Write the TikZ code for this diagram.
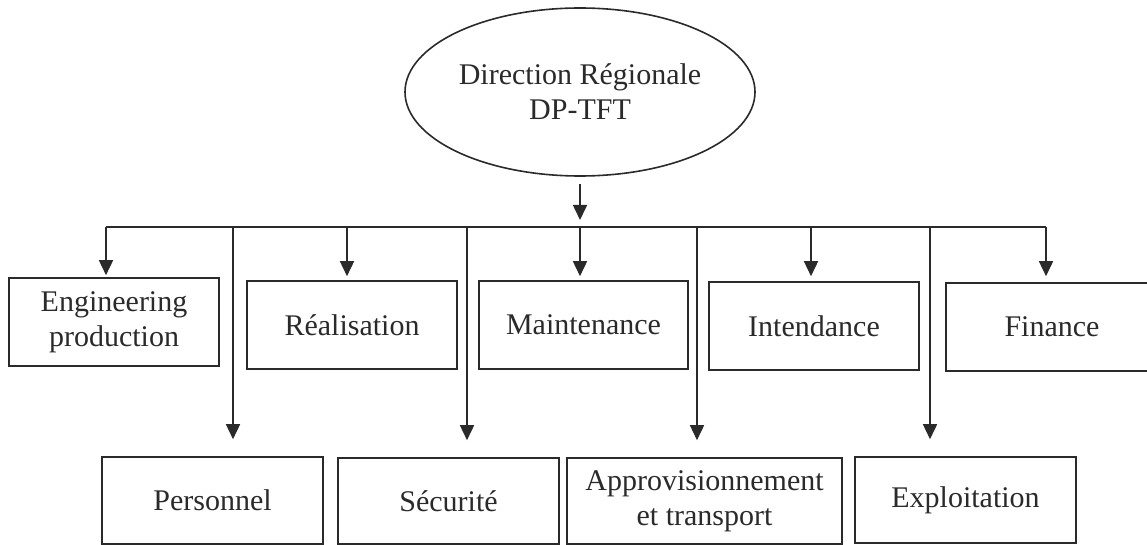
\documentclass[tikz,border=0pt]{standalone}
\usepackage{fontspec}
\setmainfont{Liberation Serif}
\usetikzlibrary{arrows.meta,shapes.geometric,calc}
\definecolor{ink}{HTML}{2A2A2A}
\tikzset{
  unit/.style={draw=ink, line width=1.6pt, rectangle, inner sep=0pt, align=center,
    text=ink, font=\fontsize{30}{35}\selectfont},
  head/.style={draw=ink, line width=1.6pt, ellipse, inner sep=0pt, align=center,
    text=ink, font=\fontsize{30}{35}\selectfont, minimum width=350pt, minimum height=168pt},
  link/.style={draw=ink, line width=1.6pt},
  arr/.style={link, -{Triangle[width=14pt,length=15pt]}},
}
\begin{document}
\begin{tikzpicture}[x=1pt,y=-1pt]
\useasboundingbox (0,0) rectangle (1147,545);
% head
\node[head] (top) at (580,92) {Direction Régionale\\DP-TFT};
% top row
\node[unit, minimum width=210pt, minimum height=88pt] (eng) at (114,322) {Engineering\\production};
\node[unit, minimum width=210pt, minimum height=88pt] (real) at (352,325) {Réalisation};
\node[unit, minimum width=209pt, minimum height=88pt] (maint) at (583.5,325) {Maintenance};
\node[unit, minimum width=210pt, minimum height=88pt] (intend) at (814,326) {Intendance};
\node[unit, minimum width=212pt, minimum height=88pt] (fin) at (1052,327) {Finance};
% bottom row
\node[unit, minimum width=221pt, minimum height=87pt] (pers) at (212.5,500.5) {Personnel};
\node[unit, minimum width=221pt, minimum height=86pt] (secu) at (448.5,501) {Sécurité};
\node[unit, minimum width=275pt, minimum height=86pt] (appro) at (704.5,501) {Approvisionnement\\et transport};
\node[unit, minimum width=221pt, minimum height=86pt] (expl) at (965.5,500) {Exploitation};
% bus coordinates
\coordinate (hub) at (580,227);
\coordinate (b1) at (106,227);
\coordinate (b2) at (347,227);
\coordinate (b3) at (811,227);
\coordinate (b4) at (1046,227);
\coordinate (c1) at (233,227);
\coordinate (c2) at (467,227);
\coordinate (c3) at (697,227);
\coordinate (c4) at (930,227);
% connectors
\draw[arr, shorten <=7pt, shorten >=7pt] (top.south) -- (hub);
\draw[link] (b1) -- (b4);
\draw[arr, shorten >=2pt] (b1) -- (b1 |- eng.north);
\draw[arr, shorten >=4pt] (b2) -- (b2 |- real.north);
\draw[arr, shorten >=4pt] (hub) -- (hub |- maint.north);
\draw[arr, shorten >=5pt] (b3) -- (b3 |- intend.north);
\draw[arr, shorten >=6pt] (b4) -- (b4 |- fin.north);
\draw[arr, shorten >=17pt] (c1) -- (c1 |- pers.north);
\draw[arr, shorten >=17pt] (c2) -- (c2 |- secu.north);
\draw[arr, shorten >=17pt] (c3) -- (c3 |- appro.north);
\draw[arr, shorten >=17pt] (c4) -- (c4 |- expl.north);
\end{tikzpicture}
\end{document}
